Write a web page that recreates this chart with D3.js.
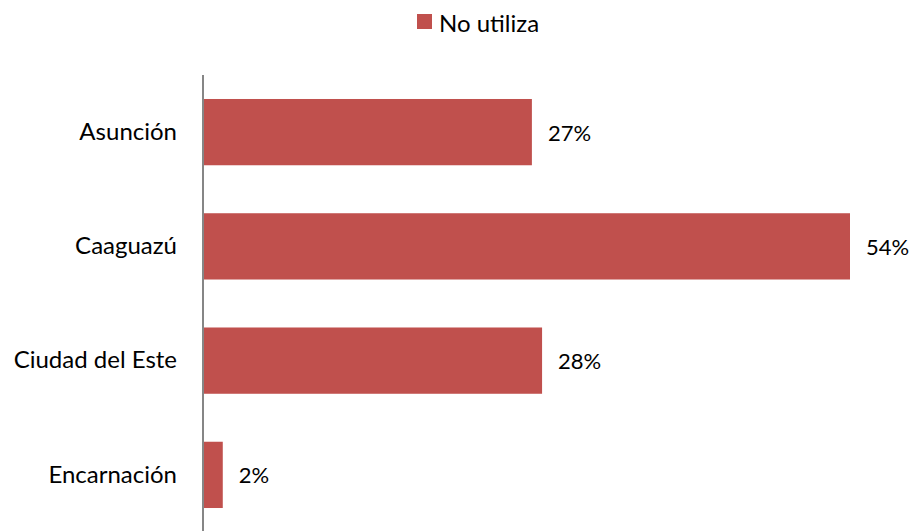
<!DOCTYPE html>
<html><head><meta charset="utf-8">
<script src="https://cdn.jsdelivr.net/npm/d3@7"></script>
<style>body{margin:0;background:#fff}svg{display:block}text{font-family:Lato,"Open Sans",sans-serif;fill:#000}</style>
</head><body><svg id="c" width="917" height="531"></svg>
<script>
const categories = ["Asunción", "Caaguazú", "Ciudad del Este", "Encarnación"];
const values = [27.45, 54.0, 28.3, 1.65];
const seriesName = "No utiliza";
const color = "#C0504D";

const svg = d3.select("#c");
const x = d3.scaleLinear().domain([0, 54]).range([203, 850]);
const y = d3.scaleBand().domain(categories).range([75, 532]).paddingInner(0.42).paddingOuter(0.21);

svg.append("g").selectAll("rect").data(categories).join("rect")
  .attr("x", x(0)).attr("y", d => y(d))
  .attr("width", (d, i) => x(values[i]) - x(0)).attr("height", y.bandwidth())
  .attr("fill", color);

svg.append("g").selectAll("text").data(categories).join("text")
  .attr("x", (d, i) => x(values[i]) + 16).attr("y", d => y(d) + y.bandwidth() / 2)
  .attr("dominant-baseline", "central").attr("font-size", 22)
  .text((d, i) => Math.round(values[i]) + "%");

const yAxis = svg.append("g").attr("transform", `translate(${x(0)},0)`)
  .call(d3.axisLeft(y).tickSize(0).tickPadding(26));
yAxis.select(".domain").attr("stroke", "#868686").attr("stroke-width", 2).attr("d", "M0,75V531");
yAxis.selectAll("text").attr("font-size", 24).attr("font-family", "Lato,'Open Sans',sans-serif").attr("fill", "#000");

const lg = svg.append("g");
lg.append("rect").attr("x", 417).attr("y", 14).attr("width", 15).attr("height", 15).attr("fill", color);
lg.append("text").attr("x", 439).attr("y", 22).attr("dominant-baseline", "central").attr("font-size", 24).text(seriesName);
</script></body></html>
